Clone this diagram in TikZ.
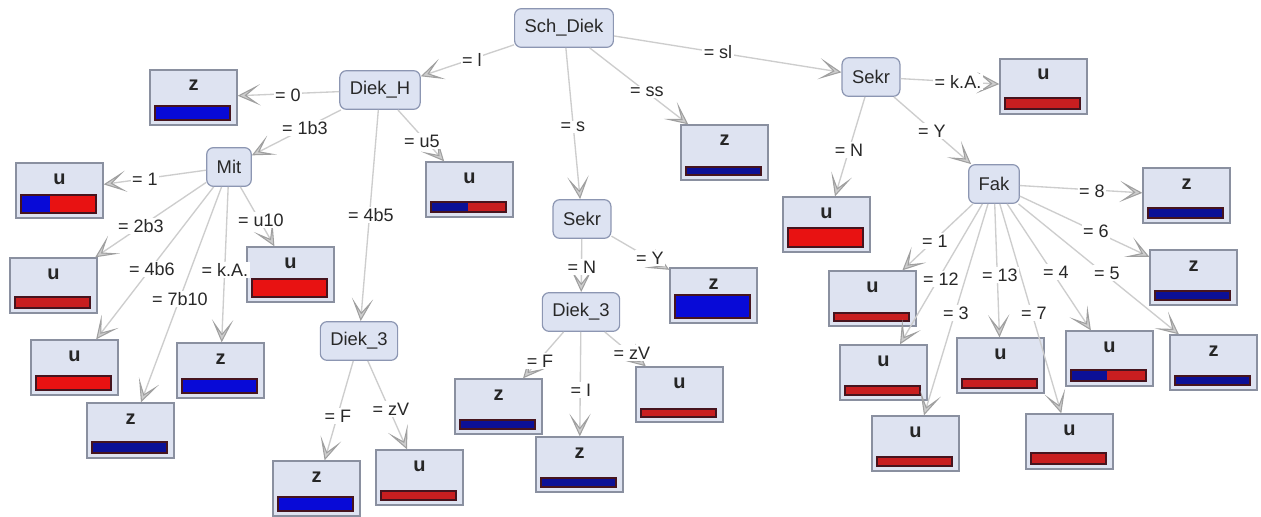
\documentclass[tikz,border=0pt]{standalone}
\usepackage{fontspec}
\setmainfont{Liberation Sans}
\usetikzlibrary{arrows.meta}

\definecolor{nodefill}{RGB}{221,227,242}
\definecolor{nodedraw}{RGB}{140,150,178}
\definecolor{leaffill}{RGB}{222,227,241}
\definecolor{leafdraw}{RGB}{138,144,160}
\definecolor{edgecol}{RGB}{205,205,205}
\definecolor{arrowfill}{RGB}{205,205,205}
\definecolor{arrowdraw}{RGB}{160,160,160}
\definecolor{barred}{RGB}{232,18,18}
\definecolor{barreddark}{RGB}{200,30,32}
\definecolor{barblue}{RGB}{8,10,215}
\definecolor{barbluedark}{RGB}{12,16,150}
\definecolor{barline}{RGB}{70,20,30}
\definecolor{labeltext}{RGB}{40,40,40}

\tikzset{
  inner/.style={draw=nodedraw, fill=nodefill, rounded corners=5pt, line width=0.9pt,
    minimum height=29pt, inner xsep=7.5pt, inner ysep=0pt,
    font=\fontsize{13.8}{16}\selectfont, text=labeltext},
  leafbox/.style={draw=leafdraw, fill=leaffill, line width=1pt, inner sep=0pt,
    minimum width=65.25pt, minimum height=41.25pt},
  leaflabel/.style={anchor=base, inner sep=0pt, font=\fontsize{15}{16}\bfseries, text=black!85},
  edge/.style={draw=edgecol, line width=1pt,
    -{Stealth[length=17pt,width=16pt,inset=10.5pt,fill=arrowfill,color=arrowdraw,line width=0.8pt]}},
  elabel/.style={fill=white, inner sep=1pt, font=\fontsize{13.5}{16}\selectfont, text=labeltext},
  bar/.style={draw=barline, line width=0.8pt}
}

% leaf box: name, left x, top y, class, bar height, blue share of the bar
\newcommand\leaf[6]{%
  \node[leafbox] (#1) at ({#2+43.5},{#3+27.5}) {};
  \node[leaflabel] (#1-t) at ({#2+43.5},{#3+21}) {#4};
  \pgfmathsetmacro\lfsplit{#2+5+75*#6}%
  \ifdim #5pt<12pt \def\lfred{barreddark}\def\lfblue{barbluedark}%
  \else \def\lfred{barred}\def\lfblue{barblue}\fi
  \fill[\lfblue] ({#2+5},{#3+50-#5}) rectangle (\lfsplit,{#3+50});
  \fill[\lfred] (\lfsplit,{#3+50-#5}) rectangle ({#2+80},{#3+50});
  \draw[bar] ({#2+5},{#3+50-#5}) rectangle ({#2+80},{#3+50});
}

\begin{document}
\begin{tikzpicture}[x=0.75pt, y={(0pt,-0.75pt)}]
\fill[white] (0,0) rectangle (1261,517);
\useasboundingbox (0,0) rectangle (1261,517);

% decision nodes
\node[inner] (Sch)   at (564,28)  {Sch\_Diek};
\node[inner] (DiekH) at (380,90)  {Diek\_H};
\node[inner] (Mit)   at (229,167) {Mit};
\node[inner] (SekrM) at (582,219) {Sekr};
\node[inner] (D3M)   at (581,312) {Diek\_3};
\node[inner] (D3L)   at (359,341) {Diek\_3};
\node[inner] (SekrR) at (871,77)  {Sekr};
\node[inner] (Fak)   at (994,184) {Fak};

% leaves
\leaf{L0}{150}{70}{z}{14}{1}
\leaf{L1}{16}{163}{u}{18}{0.39}
\leaf{L2b3}{10}{258}{u}{11}{0}
\leaf{L4b6}{31}{340}{u}{14}{0}
\leaf{L7b10}{87}{403}{z}{11}{1}
\leaf{LkA}{177}{343}{z}{14}{1}
\leaf{Lu10}{247}{247}{u}{18}{0}
\leaf{Lu5}{426}{162}{u}{10}{0.49}
\leaf{LF1}{273}{461}{z}{14}{1}
\leaf{LzV1}{376}{450}{u}{9}{0}
\leaf{Lss}{681}{125}{z}{8}{1}
\leaf{LN}{783}{197}{u}{19}{0}
\leaf{LY}{670}{268}{z}{23}{1}
\leaf{LF2}{455}{379}{z}{9}{1}
\leaf{LI2}{536}{437}{z}{9}{1}
\leaf{LzV2}{636}{367}{u}{8}{0}
\leaf{LkA2}{1000}{59}{u}{11}{0}
\leaf{L8}{1143}{168}{z}{10}{1}
\leaf{L6}{1150}{250}{z}{9}{1}
\leaf{Lf1}{829}{271}{u}{8}{0}
\leaf{L12}{840}{345}{u}{9}{0}
\leaf{L3}{872}{416}{u}{9}{0}
\leaf{L13}{957}{338}{u}{9}{0}
\leaf{L7}{1026}{414}{u}{11}{0}
\leaf{L4}{1066}{331}{u}{11}{0.48}
\leaf{L5}{1170}{335}{z}{9}{1}

% branches
\draw[edge] (Sch) -- (DiekH);
\draw[edge] (Sch) -- (SekrR);
\draw[edge] (Sch) -- (SekrM);
\draw[edge] (Sch) -- (Lss);
\draw[edge] (DiekH) -- (L0);
\draw[edge] (DiekH) -- (Mit);
\draw[edge] (DiekH) -- (Lu5);
\draw[edge] (DiekH) -- (D3L);
\draw[edge] (Mit) -- (L1);
\draw[edge] (Mit) -- (L2b3);
\draw[edge] (Mit) -- (Lu10);
\draw[edge] (Mit) -- (L4b6);
\draw[edge] (Mit) -- (L7b10);
\draw[edge] (Mit) -- (LkA);
\draw[edge] (D3L) -- (LF1);
\draw[edge] (D3L) -- (LzV1);
\draw[edge] (SekrM) -- (D3M);
\draw[edge] (SekrM) -- (LY);
\draw[edge] (D3M) -- (LF2);
\draw[edge] (D3M) -- (LI2);
\draw[edge] (D3M) -- (LzV2);
\draw[edge] (SekrR) -- (LkA2);
\draw[edge] (SekrR) -- (LN);
\draw[edge] (SekrR) -- (Fak);
\draw[edge] (Fak) -- (L8);
\draw[edge] (Fak) -- (L6);
\draw[edge] (Fak) -- (Lf1);
\draw[edge] (Fak) -- (L12);
\draw[edge] (Fak) -- (L13);
\draw[edge] (Fak) -- (L4);
\draw[edge] (Fak) -- (L5);
\draw[edge] (Fak) -- (L3);
\draw[edge] (Fak) -- (L7);

% branch labels
\node[elabel] (e1)  at (472,60)  {= l};
\node[elabel] (e2)  at (718,52)  {= sl};
\node[elabel] (e3)  at (573,127) {= s};
\node[elabel] (e4)  at (647,92)  {= ss};
\node[elabel] (e5)  at (288,95)  {= 0};
\node[elabel] (e6)  at (305,128) {= 1b3};
\node[elabel] (e7)  at (422,141) {= u5};
\node[elabel] (e8)  at (371,215) {= 4b5};
\node[elabel] (e9)  at (145,179) {= 1};
\node[elabel] (e10) at (141,226) {= 2b3};
\node[elabel] (e11) at (261,220) {= u10};
\node[elabel] (e12) at (152,269) {= 4b6};
\node[elabel] (e13) at (180,299) {= 7b10};
\node[elabel] (e14) at (225,270) {= k.A.};
\node[elabel] (e15) at (338,416) {= F};
\node[elabel] (e16) at (391,409) {= zV};
\node[elabel] (e17) at (582,267) {= N};
\node[elabel] (e18) at (650,258) {= Y};
\node[elabel] (e19) at (540,361) {= F};
\node[elabel] (e20) at (581,390) {= I};
\node[elabel] (e21) at (632,353) {= zV};
\node[elabel] (e22) at (958,82)  {= k.A.};
\node[elabel] (e23) at (849,150) {= N};
\node[elabel] (e24) at (932,131) {= Y};
\node[elabel] (e25) at (1092,191) {= 8};
\node[elabel] (e26) at (1096,231) {= 6};
\node[elabel] (e27) at (935,241) {= 1};
\node[elabel] (e28) at (941,279) {= 12};
\node[elabel] (e29) at (1000,275) {= 13};
\node[elabel] (e30) at (1056,272) {= 4};
\node[elabel] (e31) at (1107,273) {= 5};
\node[elabel] (e32) at (956,313) {= 3};
\node[elabel] (e33) at (1034,313) {= 7};
\end{tikzpicture}
\end{document}
